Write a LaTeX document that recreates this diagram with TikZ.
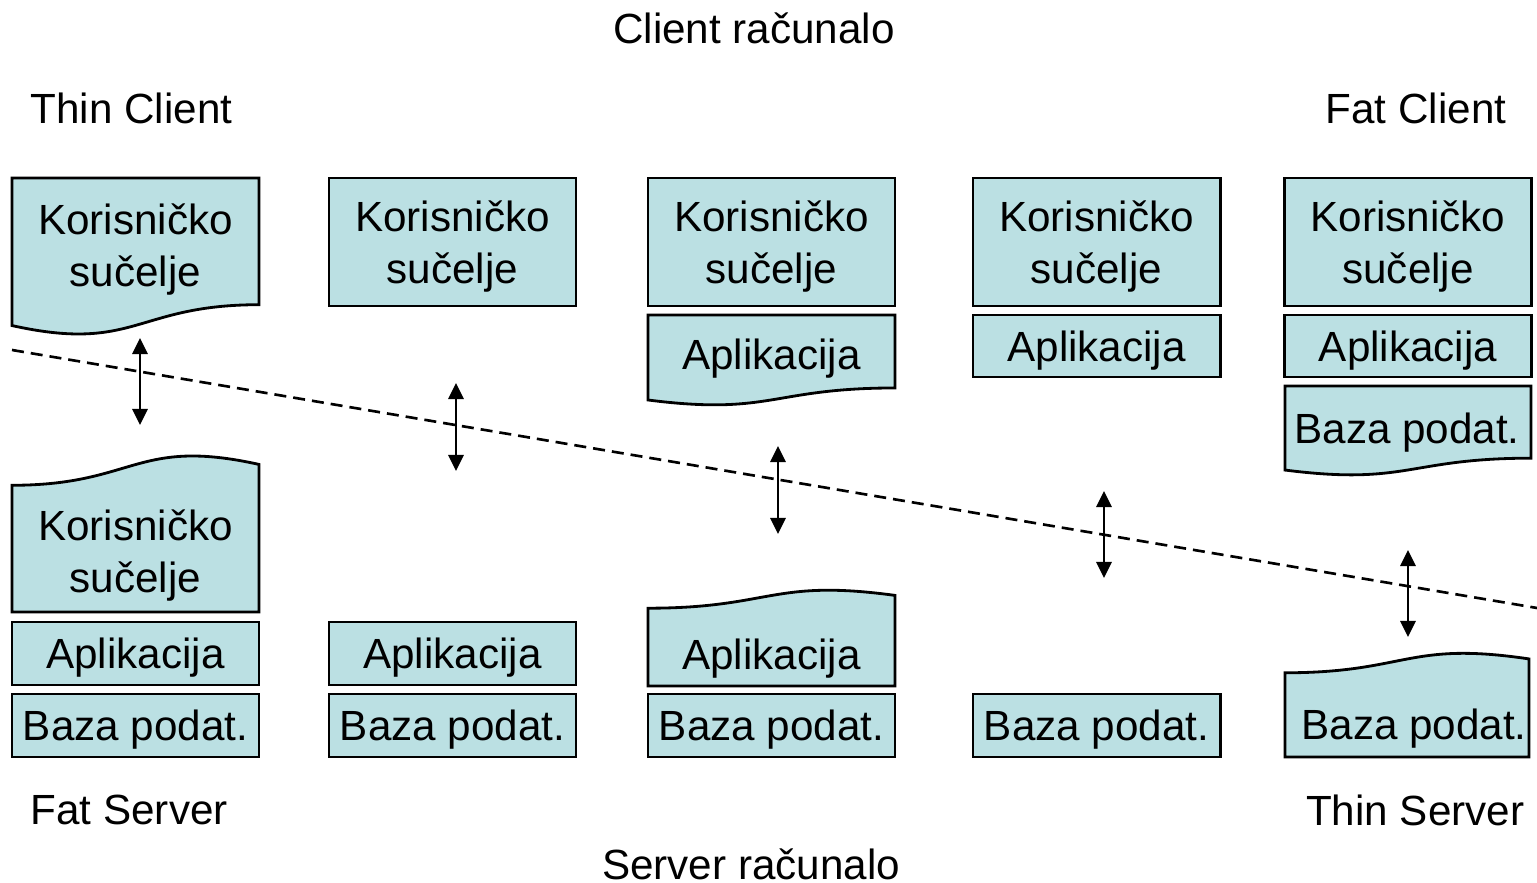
\documentclass[tikz,border=0pt]{standalone}
\usepackage{fontspec}
\setmainfont{Liberation Sans}
\usetikzlibrary{arrows.meta}
\definecolor{layerblue}{RGB}{187,224,227}

% box with a wavy lower edge: left, top, width, height
\newcommand{\wavedown}[4]{%
  \filldraw[layer] (#1,#2) -- ({#1+#3},#2) -- ({#1+#3},{#2+0.802*#4})
    .. controls ({#1+0.5*#3},{#2+0.802*#4}) and ({#1+0.5*#3},{#2+1.1075*#4}) .. (#1,{#2+0.934*#4}) -- cycle;}
% box with a wavy upper edge: left, bottom, width, height
\newcommand{\waveup}[4]{%
  \filldraw[layer] (#1,#2) -- ({#1+#3},#2) -- ({#1+#3},{#2-0.934*#4})
    .. controls ({#1+0.5*#3},{#2-1.1075*#4}) and ({#1+0.5*#3},{#2-0.802*#4}) .. (#1,{#2-0.802*#4}) -- cycle;}

\begin{document}
\begin{tikzpicture}[x=0.01cm, y=-0.01cm,
    every node/.style={font=\fontsize{12}{14.8}\selectfont},
    layer/.style={draw, line width=0.8pt, fill=layerblue},
    box/.style={layer, minimum width=2.47cm, inner sep=0pt, align=center, text depth=0pt},
    tall/.style={box, minimum height=1.28cm},
    flat/.style={box, minimum height=0.63cm},
    txt/.style={inner sep=0pt, align=center, text depth=0pt},
    cut/.style={line width=0.75pt, dash pattern=on 0.12cm off 0.07cm},
    updown/.style={line width=0.8pt, {Triangle[width=0.15cm,length=0.16cm]}-{Triangle[width=0.15cm,length=0.16cm]}}]
  \useasboundingbox (0,0) rectangle (1537,883);

  % headings
  \node[txt] (clientpc) at (754,28) {Client računalo};
  \node[txt, anchor=west] (thinc) at (30,108) {Thin Client};
  \node[txt, anchor=east] (fatc) at (1507,108) {Fat Client};
  \node[txt, anchor=west] (fats) at (30,810) {Fat Server};
  \node[txt, anchor=east] (thins) at (1525,810) {Thin Server};
  \node[txt] (serverpc) at (751,864) {Server računalo};

  % network boundary
  \coordinate (cutL) at (12,350);
  \coordinate (cutR) at (1537,608);
  \draw[cut] (cutL) -- (cutR);

  % client side
  \wavedown{12}{178}{247}{158}
  \node[txt] (ui1) at (135.5,245) {Korisničko\\sučelje};
  \node[tall] (ui2) at (452.5,242) {Korisničko\\sučelje};
  \node[tall] (ui3) at (771.5,242) {Korisničko\\sučelje};
  \wavedown{648}{315}{247}{91}
  \node[txt] (app3) at (771.5,354) {Aplikacija};
  \node[tall] (ui4) at (1096.5,242) {Korisničko\\sučelje};
  \node[flat, minimum height=0.62cm] (app4) at (1096.5,346) {Aplikacija};
  \node[tall] (ui5) at (1408,242) {Korisničko\\sučelje};
  \node[flat, minimum height=0.62cm] (app5) at (1408,346) {Aplikacija};
  \wavedown{1285}{386}{246}{90}
  \node[txt] (db5) at (1407,428) {Baza podat.};

  % server side
  \waveup{12}{612}{247}{158}
  \node[txt] (sui1) at (135.5,551) {Korisničko\\sučelje};
  \node[flat] (sapp1) at (135.5,653.5) {Aplikacija};
  \node[flat] (sdb1) at (135.5,725.5) {Baza podat.};
  \node[flat] (sapp2) at (452.5,653.5) {Aplikacija};
  \node[flat] (sdb2) at (452.5,725.5) {Baza podat.};
  \waveup{648}{686}{247}{97}
  \node[txt] (sapp3) at (771.5,654) {Aplikacija};
  \node[flat] (sdb3) at (771.5,725.5) {Baza podat.};
  \node[flat] (sdb4) at (1096.5,725.5) {Baza podat.};
  \waveup{1285}{757}{244}{105}
  \node[txt] (sdb5) at (1414,724) {Baza podat.};

  % client/server traffic
  \foreach \x/\a/\b in {140/338/425, 456/383/471, 778/446/534, 1104/491/578, 1408/550/637} {
    \coordinate (up\x) at (\x,\a);
    \coordinate (dn\x) at (\x,\b);
    \draw[updown] (up\x) -- (dn\x);
  }
\end{tikzpicture}
\end{document}
